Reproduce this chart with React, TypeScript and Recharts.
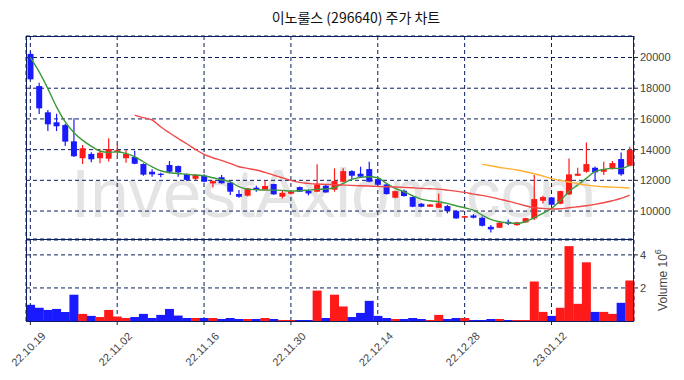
import { ComposedChart, Bar, Line, XAxis, YAxis, CartesianGrid, Cell } from "recharts";

const TITLE = "이노룰스 (296640) 주가 차트";
const TICK_LABELS = ["22.10.19", "22.11.02", "22.11.16", "22.11.30", "22.12.14", "22.12.28", "23.01.12"];

const OPEN = [
  20230, 18140, 16430, 15780, 15600, 14540, 13440, 13720, 13440, 13410,
  13830, 13440, 13520, 13060, 12560, 12430, 13000, 12930, 12420, 12100,
  12300, 11800, 12200, 11850, 11110, 11000, 11520, 11390, 11760, 10930,
  11130, 11560, 11320, 11260, 11650, 11390, 11910, 12600, 12430, 12735,
  12080, 11735, 10870, 11320, 10910, 10475, 10280, 10215, 10325, 10000,
  9565, 9715, 9565, 8975, 8910, 9300, 9085, 9260, 9520, 10670,
  10890, 10475, 11085, 12300, 12560, 12820, 12560, 12735, 13386, 12950,
];
const HIGH = [
  20380, 18360, 16580, 16340, 15690, 16040, 14300, 13830, 14020, 14740,
  14390, 13960, 13930, 13110, 12720, 12500, 13260, 12960, 12440, 12400,
  12400, 11990, 12350, 11880, 11370, 11500, 11650, 11975, 11780, 11300,
  11330, 11600, 11410, 13040, 11700, 12780, 12780, 12650, 12890, 13210,
  12120, 11800, 11330, 11400, 10950, 10520, 10460, 11150, 10400, 10050,
  9700, 9800, 9650, 9085, 9300, 9455, 9300, 9560, 12340, 11000,
  10900, 11330, 13430, 12820, 14470, 12900, 13210, 13260, 13820, 14190,
];
const LOW = [
  18550, 16320, 15210, 15210, 14240, 13520, 13070, 13180, 13110, 13220,
  13650, 13150, 13050, 12300, 12240, 12200, 12460, 12240, 11950, 11980,
  11880, 11540, 11790, 11040, 10870, 10950, 11260, 11350, 11060, 10820,
  11100, 11250, 11020, 11220, 11200, 11260, 11880, 12080, 12200, 11880,
  11700, 11080, 10840, 10950, 10250, 10250, 10260, 10200, 9850, 9500,
  9550, 9520, 9000, 8610, 8900, 9085, 9050, 9240, 9410, 10500,
  10400, 10450, 11050, 12280, 12500, 11910, 12340, 12700, 12300, 12900,
];
const CLOSE = [
  18580, 16690, 15650, 15520, 14520, 13570, 14090, 13370, 13800, 14040,
  13960, 13720, 13080, 12370, 12390, 12350, 12560, 12520, 12030, 12360,
  11910, 11950, 11810, 11260, 10930, 11475, 11390, 11630, 11085, 11190,
  11280, 11260, 11150, 11735, 11215, 11950, 12600, 12300, 12235, 11910,
  11715, 11105, 11300, 10975, 10280, 10280, 10430, 10500, 10000, 9520,
  9670, 9565, 9040, 8805, 9240, 9175, 9260, 9540, 10780, 10910,
  10410, 11300, 12390, 12430, 13060, 12520, 12735, 13125, 12390, 13970,
];
const MA5 = [
  20010, 19077, 17990, 16800, 15820, 15120, 14620, 14230, 13910, 13820,
  13860, 13755, 13540, 13210, 12887, 12627, 12496, 12450, 12390, 12344,
  12300, 12170, 12040, 11910, 11584, 11430, 11388, 11366, 11366, 11345,
  11300, 11323, 11366, 11410, 11430, 11518, 11800, 12060, 12190, 12235,
  12170, 11800, 11475, 11258, 10997, 10780, 10671, 10606, 10497, 10346,
  10215, 10063, 9737, 9455, 9303, 9237, 9195, 9303, 9564, 9846,
  10172, 10671, 11258, 11690, 12127, 12560, 12713, 12778, 12778, 12995,
];
const MA20 = [
  null, null, null, null, null, null, null, null, null, null,
  null, null, 16250, 16080, 15930, 15490, 15100, 14730, 14385, 14016,
  13690, 13473, 13300, 13100, 12887, 12778, 12670, 12517, 12344, 12170,
  11996, 11866, 11801, 11757, 11735, 11714, 11692, 11670, 11649, 11627,
  11605, 11584, 11562, 11540, 11518, 11475, 11453, 11430, 11366, 11300,
  11214, 11106, 11020, 10910, 10780, 10650, 10497, 10346, 10215, 10172,
  10130, 10150, 10215, 10280, 10346, 10432, 10540, 10671, 10823, 11040,
];
const MA60 = [
  null, null, null, null, null, null, null, null, null, null,
  null, null, null, null, null, null, null, null, null, null,
  null, null, null, null, null, null, null, null, null, null,
  null, null, null, null, null, null, null, null, null, null,
  null, null, null, null, null, null, null, null, null, null,
  null, null, 13040, 12950, 12840, 12760, 12670, 12560, 12430, 12280,
  12110, 11997, 11890, 11780, 11690, 11630, 11580, 11560, 11530, 11500,
];
// volume in millions of shares
const VOLUME = [
  0.98, 0.80, 0.67, 0.73, 0.55, 1.59, 0.43, 0.31, 0.24, 0.67,
  0.27, 0.18, 0.24, 0.43, 0.18, 0.37, 0.73, 0.33, 0.18, 0.18,
  0.18, 0.18, 0.12, 0.18, 0.12, 0.12, 0.12, 0.18, 0.12, 0.06,
  0.06, 0.06, 0.06, 1.84, 0.18, 1.59, 0.88, 0.24, 0.49, 1.22,
  0.31, 0.18, 0.12, 0.12, 0.18, 0.12, 0.06, 0.37, 0.12, 0.18,
  0.18, 0.06, 0.06, 0.12, 0.12, 0.06, 0.06, 0.06, 2.39, 0.55,
  0.31, 0.80, 4.53, 1.04, 3.55, 0.55, 0.55, 0.43, 1.10, 2.45,
];

const UP = "#ff1a1a";
const DOWN = "#1a1aff";
const NAVY = "#0b1f5e";
const FONT = "'Liberation Sans', Arial, sans-serif";

const rows = OPEN.map((o, i) => ({
  i,
  open: o,
  high: HIGH[i],
  low: LOW[i],
  close: CLOSE[i],
  range: [LOW[i], HIGH[i]],
  ma5: MA5[i],
  ma20: MA20[i],
  ma60: MA60[i],
  vol: VOLUME[i],
}));

function Candle(props: any) {
  const { x, y, width, height, payload } = props;
  const { open, close, high, low } = payload;
  const span = high - low || 1;
  const py = (v: number) => y + ((high - v) / span) * height;
  const cx = x + width / 2;
  const color = close >= open ? UP : DOWN;
  const top = py(Math.max(open, close));
  const bot = py(Math.min(open, close));
  const bw = 6;
  return (
    <g>
      <line x1={cx} x2={cx} y1={y} y2={y + height} stroke={color} strokeWidth={1.2} />
      <rect x={cx - bw / 2} y={top} width={bw} height={Math.max(bot - top, 1)} fill={color} />
    </g>
  );
}

function EmptyTick() {
  return <g />;
}

function DateTick({ x, y, payload }: any) {
  const cx = x - 2;
  const cy = y + 22;
  return (
    <text
      x={cx}
      y={cy}
      textAnchor="middle"
      dominantBaseline="central"
      transform={`rotate(-45 ${cx} ${cy})`}
      fontSize={11}
      fill="#444"
      fontFamily={FONT}
    >
      {TICK_LABELS[payload.value / 10]}
    </text>
  );
}

function VolumeLabel() {
  return (
    <text
      x={663}
      y={280}
      textAnchor="middle"
      transform="rotate(-90 663 280)"
      fontSize={12}
      fill="#444"
      fontFamily={FONT}
      dominantBaseline="central"
    >
      Volume 10<tspan dy={-5} fontSize={9}>6</tspan>
    </text>
  );
}

export default function App() {
  return (
    <div style={{ position: "absolute", left: 0, top: 0, width: 684, height: 380, background: "#fff", fontFamily: FONT }}>
      <svg width={684} height={380} style={{ position: "absolute", left: 0, top: 0 }}>
        <text x={71} y={217} fontSize={69} fill="#e4e4e4" fontFamily={FONT}>
          InvestAxiom.com
        </text>
      </svg>
      <div
        style={{
          position: "absolute",
          top: 7,
          left: 0,
          width: 712,
          textAlign: "center",
          fontSize: 14,
          color: "#111",
          fontFamily: "'Noto Sans CJK KR', sans-serif",
        }}
      >
        {TITLE}
      </div>

      <div style={{ position: "absolute", left: 0, top: 0 }}>
        <ComposedChart width={684} height={240} data={rows} margin={{ top: 36, right: 0, left: 26, bottom: 0 }} barCategoryGap={0}>
          <CartesianGrid stroke={NAVY} strokeDasharray="4 3" />
          <XAxis dataKey="i" interval={9} height={1} tick={<EmptyTick />} axisLine={false} tickLine={false} />
          <YAxis
            orientation="right"
            width={50}
            domain={[8180, 21400]}
            ticks={[10000, 12000, 14000, 16000, 18000, 20000]}
            allowDataOverflow
            axisLine={false}
            tickSize={4}
            tickLine={{ stroke: "#222" }}
            tick={{ fontSize: 11, fill: "#444", fontFamily: FONT }}
          />
          <Bar dataKey="range" shape={<Candle />} isAnimationActive={false} />
          <Line type="monotone" dataKey="ma5" stroke="#3a9a3a" strokeWidth={1.4} dot={false} isAnimationActive={false} />
          <Line type="monotone" dataKey="ma20" stroke="#f04848" strokeWidth={1.4} dot={false} isAnimationActive={false} />
          <Line type="monotone" dataKey="ma60" stroke="#ffb030" strokeWidth={1.4} dot={false} isAnimationActive={false} />
        </ComposedChart>
      </div>

      <div style={{ position: "absolute", left: 0, top: 239 }}>
        <ComposedChart width={684} height={141} data={rows} margin={{ top: 1, right: 0, left: 26, bottom: 0 }} barCategoryGap={0}>
          <CartesianGrid stroke={NAVY} strokeDasharray="4 3" />
          <XAxis
            dataKey="i"
            interval={9}
            height={59}
            axisLine={false}
            tickSize={4}
            tickLine={{ stroke: "#222" }}
            tick={<DateTick />}
          />
          <YAxis
            orientation="right"
            width={50}
            domain={[0, 4.9]}
            ticks={[2, 4]}
            allowDataOverflow
            axisLine={false}
            tickSize={4}
            tickLine={{ stroke: "#222" }}
            tick={{ fontSize: 11, fill: "#444", fontFamily: FONT }}
          />
          <Bar dataKey="vol" isAnimationActive={false}>
            {rows.map((r) => (
              <Cell key={r.i} fill={r.close >= r.open ? UP : DOWN} />
            ))}
          </Bar>
        </ComposedChart>
        <svg width={684} height={141} style={{ position: "absolute", left: 0, top: 0, pointerEvents: "none" }}>
          <g transform="translate(0,-239)">
            <VolumeLabel />
          </g>
        </svg>
      </div>

      <div style={{ position: "absolute", left: 26, top: 36, width: 608, height: 204, border: `1px solid ${NAVY}`, boxSizing: "border-box" }} />
      <div style={{ position: "absolute", left: 26, top: 239, width: 608, height: 83, border: `1px solid ${NAVY}`, boxSizing: "border-box" }} />
    </div>
  );
}
